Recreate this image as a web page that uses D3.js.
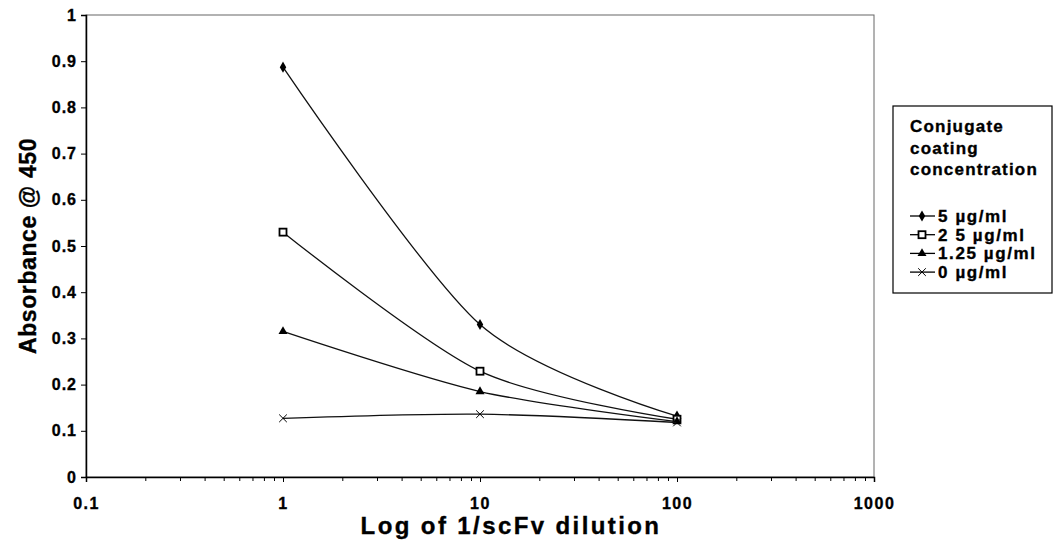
<!DOCTYPE html>
<html>
<head>
<meta charset="utf-8">
<script src="https://cdn.jsdelivr.net/npm/d3@7"></script>
<style>
    body { margin: 0; background: #fff; }
    text { font-family: "Liberation Sans", Arial, sans-serif; font-weight: bold; fill: #000; stroke: #000; stroke-width: 0.35px; }
</style>
</head>
<body>
<div id="chart"></div>
<script>
// dilution (x) values and absorbance for each coating concentration
const dilutions = [1, 10, 100]
const series_names = ['5 \u00b5g/ml', '2 5 \u00b5g/ml', '1.25 \u00b5g/ml', '0 \u00b5g/ml']
const series_symbols = ['diamond', 'square', 'triangle', 'cross']
const values_5 = [0.887, 0.330, 0.132]
const values_2_5 = [0.530, 0.229, 0.125]
const values_1_25 = [0.315, 0.185, 0.120]
const values_0 = [0.127, 0.136, 0.118]
const x_ticks = [0.1, 1, 10, 100, 1000]
const y_ticks = [0, 0.1, 0.2, 0.3, 0.4, 0.5, 0.6, 0.7, 0.8, 0.9, 1]
const legend_title = ['Conjugate', 'coating', 'concentration']

const all_values = [values_5, values_2_5, values_1_25, values_0]

const width = 1061
const height = 554
const margin = { left: 86, right: 187, top: 15, bottom: 77 }

const svg = d3.select('#chart')
    .append('svg')
    .attr('width', width)
    .attr('height', height)

const x = d3.scaleLog()
    .domain([0.1, 1000])
    .range([margin.left, width - margin.right])
const y = d3.scaleLinear()
    .domain([0, 1])
    .range([height - margin.bottom, margin.top])

// plot frame (top/right are faint in the scan)
svg.append('rect')
    .attr('x', x(0.1))
    .attr('y', y(1))
    .attr('width', x(1000) - x(0.1))
    .attr('height', y(0) - y(1))
    .attr('fill', 'none')
    .attr('stroke', '#666')
    .attr('stroke-width', 1)

// y axis
const yAxis = d3.axisLeft(y)
    .tickValues(y_ticks)
    .tickSize(5)
    .tickFormat(d => d3.format('')(+d.toFixed(1)))
svg.append('g')
    .attr('transform', `translate(${x(0.1)},0)`)
    .call(yAxis)
    .call(g => g.select('.domain').attr('stroke', '#000').attr('stroke-width', 1.5))
    .call(g => g.selectAll('.tick text')
        .style('font-size', '16px')
        .style('letter-spacing', '1px')
        .attr('dx', -1))

// x axis, major labels plus minor log ticks
const minor_ticks = x.ticks().filter(d => x_ticks.indexOf(d) < 0)
svg.append('g')
    .attr('transform', `translate(0,${y(0)})`)
    .call(d3.axisBottom(x).tickValues(minor_ticks).tickSize(4).tickFormat(''))
    .call(g => g.select('.domain').remove())
const xAxis = d3.axisBottom(x)
    .tickValues(x_ticks)
    .tickSize(5)
    .tickFormat(d => String(d))
svg.append('g')
    .attr('transform', `translate(0,${y(0)})`)
    .call(xAxis)
    .call(g => g.select('.domain').attr('stroke', '#000').attr('stroke-width', 1.5))
    .call(g => g.selectAll('.tick text')
        .style('font-size', '16px')
        .style('letter-spacing', '1.5px')
        .attr('y', 21))

// axis titles
svg.append('text')
    .attr('x', 511)
    .attr('y', 534)
    .attr('text-anchor', 'middle')
    .style('font-size', '24px')
    .style('letter-spacing', '2.4px')
    .text('Log of 1/scFv dilution')
svg.append('text')
    .attr('transform', `translate(36 ${(y(0) + y(1)) / 2}) rotate(-90)`)
    .attr('text-anchor', 'middle')
    .style('font-size', '23px')
    .style('letter-spacing', '0.6px')
    .text('Absorbance @ 450')

// excel-like smoothed line
const line = d3.line()
    .x((d, i) => x(dilutions[i]))
    .y(d => y(d))
    .curve(d3.curveCardinal.tension(0.15))

function draw_symbol(g, kind, cx, cy) {
    if (kind == 'diamond') {
        g.append('path')
            .attr('d', d3.symbol(d3.symbolDiamond, 36)())
            .attr('transform', `translate(${cx},${cy})`)
            .attr('fill', '#000')
    }
    if (kind == 'square') {
        g.append('rect')
            .attr('x', cx - 3.5).attr('y', cy - 3.5)
            .attr('width', 7).attr('height', 7)
            .attr('fill', '#fff').attr('stroke', '#000').attr('stroke-width', 1.8)
    }
    if (kind == 'triangle') {
        g.append('path')
            .attr('d', d3.symbol(d3.symbolTriangle, 35)())
            .attr('transform', `translate(${cx},${cy})`)
            .attr('fill', '#000')
    }
    if (kind == 'cross') {
        g.append('path')
            .attr('d', d3.symbol(d3.symbolX, 40)())
            .attr('transform', `translate(${cx},${cy})`)
            .attr('fill', 'none').attr('stroke', '#000').attr('stroke-width', 1)
    }
}

const series_group = svg.append('g')
all_values.forEach((vals, s) => {
    series_group.append('path')
        .attr('d', line(vals))
        .attr('fill', 'none')
        .attr('stroke', '#111')
        .attr('stroke-width', 1.3)
    vals.forEach((v, i) => draw_symbol(series_group, series_symbols[s], x(dilutions[i]), y(v)))
})

// legend
const legend = svg.append('g')
legend.append('rect')
    .attr('x', 893).attr('y', 106)
    .attr('width', 159).attr('height', 187)
    .attr('fill', '#fff').attr('stroke', '#000').attr('stroke-width', 1.2)
legend.selectAll('.legend-title')
    .data(legend_title)
    .enter()
    .append('text')
    .attr('x', 910)
    .attr('y', (d, i) => 132 + i * 21.5)
    .style('font-size', '17px')
    .style('letter-spacing', '1.2px')
    .text(d => d)
series_names.forEach((name, s) => {
    const ly = 216 + s * 18.7
    legend.append('line')
        .attr('x1', 910).attr('x2', 935)
        .attr('y1', ly).attr('y2', ly)
        .attr('stroke', '#000').attr('stroke-width', 1.3)
    draw_symbol(legend, series_symbols[s], 922, ly)
    legend.append('text')
        .attr('x', 938)
        .attr('y', ly + 6)
        .style('font-size', '17px')
        .style('letter-spacing', '1.6px')
        .text(name)
})
</script>
</body>
</html>
